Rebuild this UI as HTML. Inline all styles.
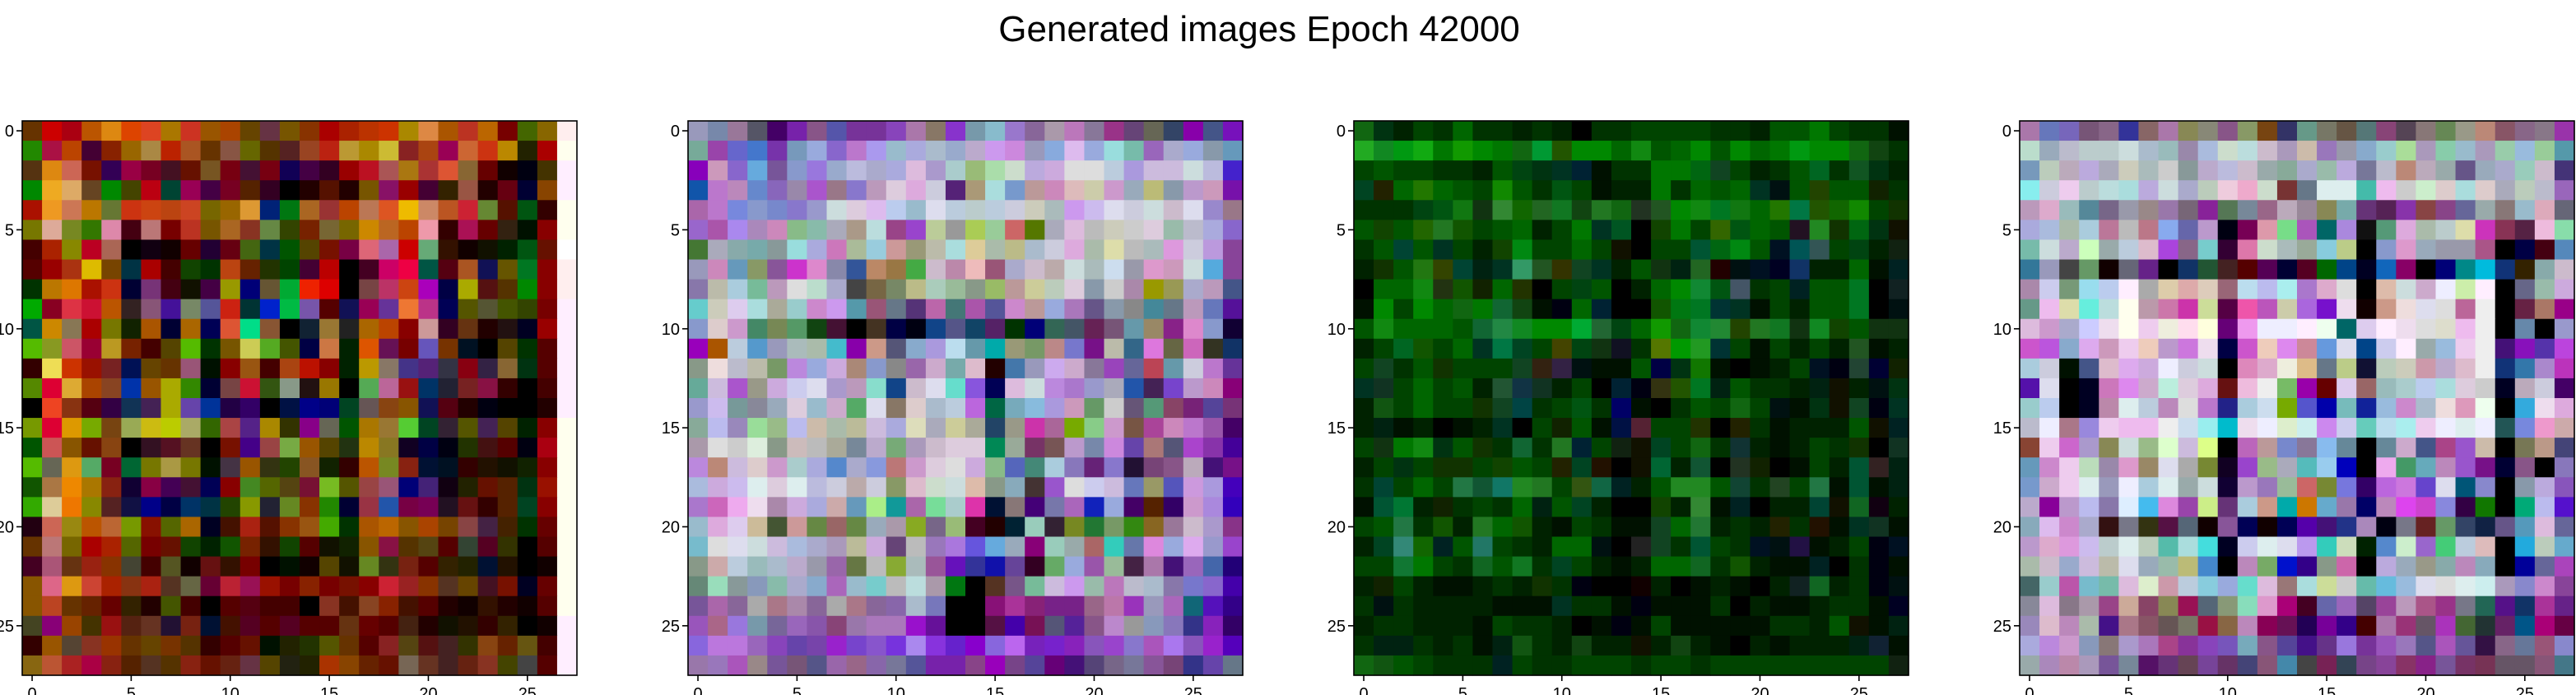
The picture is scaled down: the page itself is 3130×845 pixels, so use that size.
<!DOCTYPE html>
<html><head><meta charset="utf-8">
<style>
html,body{margin:0;padding:0;background:#fff;}
svg{display:block;font-family:"Liberation Sans",sans-serif;}
</style></head>
<body>
<svg id="fig" width="3130" height="845" viewBox="0 0 3130 845" xmlns="http://www.w3.org/2000/svg">
<rect x="0" y="0" width="3130" height="845" fill="#fff"/>
<text x="1530" y="50" font-size="44" text-anchor="middle" fill="#000">Generated images Epoch 42000</text>
</svg>
<script>
const tickValues = [0, 5, 10, 15, 20, 25];
const imageNames = ["image-1", "image-2", "image-3", "image-4"];
const img1 = [
"630 c00 a01 b50 d81 d40 d42 a70 c32 950 a40 640 634 750 830 a00 a20 b30 c30 a80 d84 a50 b32 b60 700 460 860 fee",
"280 a14 b40 403 820 960 a84 b20 a52 630 854 660 530 522 942 b21 b93 a80 cb3 822 a41 905 c63 c31 b80 220 a00 ffe",
"531 d81 c65 710 305 904 702 412 610 752 701 413 701 105 404 302 900 b12 a55 a71 a33 d53 863 600 100 001 430 fef",
"080 ea2 da6 642 080 440 b01 043 905 404 702 520 302 000 200 510 200 750 816 900 403 320 954 200 601 003 840 fef",
"a10 e92 c75 b70 673 c31 c41 b41 c42 760 960 d93 027 071 a62 933 b40 b75 d52 eb0 c86 b52 c23 683 510 051 300 ffe",
"770 da9 782 370 d8a 401 b77 700 b32 750 a62 832 684 340 720 763 760 c80 b62 b40 e9a 300 a15 600 321 010 800 ffe",
"400 a20 880 b02 a65 000 101 100 600 203 601 461 034 050 540 710 704 d67 a6a c00 6a7 310 100 110 020 051 610 fff",
"500 900 a31 db0 740 034 a00 400 140 030 b41 620 230 040 403 b00 000 402 c06 e04 054 501 a52 115 650 072 800 fee",
"030 b70 d70 a10 c31 003 737 401 110 404 990 007 653 0a3 e20 d00 000 744 b36 c41 a0b 004 aa0 511 530 080 800 fee",
"0a0 802 d34 c13 b50 322 857 419 786 559 c21 033 02c 0b4 75a 500 115 905 639 e73 b38 005 550 553 450 340 700 fef",
"054 c80 875 a00 770 120 a50 003 a60 005 d53 0d8 853 000 123 973 222 a60 b40 800 c99 302 631 200 211 002 900 fef",
"5b0 892 c56 903 b92 720 400 540 5b0 030 750 cc5 5a2 450 004 c74 020 d50 615 700 65b 730 012 000 540 030 500 fef",
"300 ed5 c30 910 722 015 640 630 957 010 800 951 400 a41 b10 800 020 b90 876 438 527 334 801 324 863 031 500 fef",
"580 d03 da3 a40 842 03a 950 aa0 380 003 744 c13 351 898 211 970 000 5a5 b69 911 036 223 722 814 300 000 400 fef",
"000 e42 831 501 304 135 425 aa0 64a 039 204 306 000 014 008 007 042 655 841 850 115 501 200 001 000 000 200 fef",
"790 d03 d90 7a0 741 9a5 cb1 bc0 aa6 360 a44 528 a80 330 808 665 050 a70 973 5c3 042 323 550 425 540 020 800 ffe",
"050 c55 850 610 841 000 312 512 632 000 710 408 944 7a4 950 540 231 b80 872 102 004 001 230 411 500 001 a01 ffe",
"5b0 665 d91 5a6 702 063 770 a94 770 010 434 950 331 240 852 120 300 b50 782 821 013 012 300 210 110 120 800 ffe",
"150 a74 e80 a70 821 103 804 405 413 005 800 482 560 541 713 7b2 550 944 957 007 427 101 220 610 520 031 910 ffe",
"3a0 dc9 e70 880 522 114 008 004 036 034 240 890 223 682 830 280 003 934 25a 704 705 212 611 300 520 042 800 ffe",
"201 c65 981 b50 b63 790 810 560 a60 002 410 a21 510 830 951 4a0 030 a50 b60 850 a40 740 844 424 420 030 600 ffe",
"630 b77 760 a00 a20 560 700 610 140 020 150 720 310 140 500 110 120 850 814 530 541 500 343 502 330 000 500 ffe",
"402 a57 631 921 830 443 400 552 100 611 310 700 000 010 100 540 110 682 331 721 500 320 220 013 210 000 100 ffe",
"850 d68 d91 c43 a20 831 a21 532 664 603 b23 915 910 700 820 700 710 800 c23 922 830 532 640 412 710 002 600 ffe",
"850 b42 630 620 600 320 200 450 400 000 500 501 400 400 000 832 410 842 820 410 500 200 100 310 200 100 500 ffe",
"442 807 940 430 911 521 632 213 721 013 410 502 500 502 500 500 631 600 500 421 200 110 210 300 320 000 100 fef",
"300 950 543 832 930 630 640 730 530 300 500 610 010 220 230 550 630 500 822 541 511 422 330 841 620 651 400 fef",
"861 b53 a22 a04 821 520 532 530 821 610 621 634 540 221 220 a30 840 620 610 765 632 422 621 832 440 444 500 fef"
];
const img2 = [
"99b 78a 979 556 406 72a 858 55a 739 739 84b a7a 876 83c 79a 8bc 97c 869 a9a b7b 879 938 647 665 346 80a 458 71b",
"7a9 94a 66c 47c 73a 79b 9ad 86c b7c a9e 9bc aad abc 9ac bac c9e c8d 99b 8ad dbe 9ad 9dd 7ba 96b aac 9ad 89a 69b",
"80b c9b 86c 6ad 759 89c 97d 9ac bbd aac aad dbd a9c acc 9b7 ada cdc bad cad ddd ddd bcd a9d cbd cbd cdd bbd 42c",
"15a b7c b8b 68c 86b 98a a5c 978 87c b9b dcd dad ccd 527 a97 add 79c b99 c8b dbb cca c9c 9ab bb7 89a b9c c9b 71a",
"a6a b7c 78d 89c 78c 87c 99c cdd dcd dbe bce 9bc dde bcd bcc bcd ccd ccb abb c9e cbe dde ccd cdd cbc dde 98c 978",
"96c a5a a8e a8b c8b 8b8 8ba aab a98 bdd 948 94c bc9 999 ac5 9c9 c66 570 aab dbd bbb ccb ccc dcd 9ba bbc aad 86c",
"473 aab 8aa 7aa 899 9dd aad c7b ab9 9cd c99 997 bba add dc9 aba bb8 abc ccd dad aba dda bbb abb d9d ccd b9d 849",
"99b c8b 69b 896 859 c3c d8c 88a 359 b86 974 4a4 cbc b8a ebb 957 aac cbc baa cdd abb cde 99a d9c c9b cdd 5ad 849",
"87a bba acd 7b9 b9b ddd bdc aac 444 764 786 bb8 acb 9b9 898 9b6 b99 cc9 bcb dcd 89a ccc a8a 990 995 aac b9b 458",
"6cc ccb dce add aa9 9cc c8c c9e 59a 957 678 537 b6a 477 a5a 559 c8c b99 9ad a7b 658 89a 888 489 678 b9b 67b 519",
"89c dcc c9c 486 785 596 141 413 000 432 004 001 148 558 146 526 030 007 365 456 625 757 69a 986 828 d8c 89c 103",
"90b a50 bcd 59c 99b abb aba 4bc 80a c98 557 8ac a9d bde 69a 0aa 997 796 b88 77c 718 bba 368 d7d 664 c6b 332 136",
"898 edd bbc bba 796 b8d 9ad cad a87 89c 888 96a cac 7aa dbc 200 47a 99b cae cac 879 94b 669 b45 69a ccd b7c 639",
"6a9 cbd a5c 998 cad cce dde a9c b9b 8dc 148 cbc dde 6dc 85d 005 dbd cdd b8d a7c 99c aab 25a 425 74c b9c c8b 807",
"99c cbe 799 889 9ab dcd 9bc cac 5a6 dde 876 dcc abc bcd b6d 064 7ab 8bd a9d c9b 696 ccc 657 597 846 727 549 737",
"8a9 bbe 98b 9d9 9b8 bbe cba aba bb9 cbd aad ddb aab cc9 aa9 246 998 c3a a69 7a0 8c8 c9c 754 a49 c8b b7c 95a 406",
"a9a ddd ccc ded 898 cbb bbb aa9 789 bac 7a7 a9b cbc dcd dcd 085 9a9 736 755 b9c 78a c8d 64a a77 557 a4c 83a 409",
"b8d b87 cbd dcc c9c acc aad 58c aac 89d b77 c9c dcd ddd cad 8b8 56b 487 acd 87b 627 87c 213 747 858 bab 417 718",
"abd cad cbe dee dcd dee bbd ccd baa ccd 896 dbc cdc cdd dba 898 8ab 433 95c ddd cce cbd 67b 996 55b c9d a9d 40b",
"a7c c6b eae ede a8a cad aad caa 69b ae8 199 a6a 7d9 acc d3a 013 877 407 77a a6b 12b 9ad 406 520 306 c9c a8d 30b",
"9bc dad dce cb9 453 c99 684 966 684 9ab a9a 8a2 768 9b7 402 200 023 9cb 323 782 273 796 381 862 979 cbc a9c 838",
"7bc ddd dde cdd cbd abd aac a9b bb9 cad 647 bbb 97b a7d 65d 6ad 9ab 807 9cb 9aa a66 3cb 67a d8d 9ad dae 99c 94c",
"898 caa bcd 9bb abc bac 99a 96a 674 bbb 8a3 abb 959 61b 339 11a 649 302 6a6 9ad 95a 9b9 424 a7a 417 96b 46a 207",
"687 9db 899 89b 8ba aac 8ac a6b 9bc 7cc bbb bdd a9a 071 000 532 758 7b9 cbd c9e 9ba b7b bbc abc 87a 77c 86c 40a",
"759 a6a 869 aaa a78 a8a 869 aaa a78 869 86a abc 77b 000 000 817 a39 827 728 728 968 b7a 93b 99b a6b 167 51b 308",
"95b a68 97d 79a 769 96b 85a 847 97a a7b a7b 91c 619 000 000 514 40a 715 557 529 858 b8c 999 89b 87b 338 82b 306",
"86d b7d b7d 96b 84b 64a 74a 92c 74c 85c 73d a8e 83d 62c 80c 86d b6e 72b 72c 82b 85b 94c 87c a5b a7e 85b 92c 50b",
"97a 97b a5b 988 759 757 558 96a 968 86a 779 559 72a 72a 848 90b 748 549 607 417 547 768 779 859 747 338 64a 678"
];
const img3 = [
"161 031 020 040 030 060 030 030 020 030 020 000 030 030 040 040 040 040 030 030 020 050 050 070 040 030 030 010",
"2a2 182 091 1a1 070 190 080 070 161 093 250 080 080 060 181 050 060 080 050 080 060 070 091 080 080 161 141 030",
"040 050 040 040 030 030 020 050 041 031 032 023 010 030 030 070 070 061 142 040 020 030 050 062 030 152 031 020",
"042 220 060 270 060 050 040 180 050 030 051 040 010 020 020 070 030 060 050 060 032 011 050 240 050 050 120 030",
"030 030 030 041 051 171 131 383 160 262 172 141 272 161 232 252 080 181 072 171 060 270 074 250 160 180 040 130",
"050 140 050 260 272 150 040 050 060 020 040 070 032 052 000 140 070 040 360 051 060 050 212 282 130 061 031 110",
"030 050 043 050 032 040 020 140 081 040 040 060 040 110 000 040 040 053 061 081 050 012 055 355 040 041 020 121",
"020 130 050 271 340 043 021 032 396 252 330 142 032 020 050 131 021 262 200 011 012 002 136 020 020 060 010 022",
"000 060 060 181 231 150 120 060 230 000 040 041 050 000 020 060 080 183 051 456 030 040 022 050 050 072 000 122",
"010 080 040 080 060 161 070 163 141 010 001 060 023 000 000 150 071 072 033 032 010 040 020 050 050 072 000 011",
"050 181 060 060 060 050 163 284 182 080 080 0a3 263 041 060 190 161 183 283 240 272 172 131 182 140 050 131 131",
"020 040 062 150 040 060 032 074 042 040 440 041 131 112 030 570 090 292 033 040 010 040 020 040 020 252 010 020",
"040 142 030 050 130 040 040 040 142 321 324 011 010 010 050 004 031 170 010 000 010 020 040 012 001 243 003 120",
"032 132 040 060 040 050 020 253 134 132 020 040 000 023 001 331 250 072 021 050 030 030 020 021 110 020 011 031",
"020 151 040 060 040 040 130 142 044 030 040 051 030 006 010 000 030 050 040 161 040 011 010 031 110 142 001 032",
"020 021 010 020 000 010 020 032 000 040 120 050 010 014 523 040 040 230 000 220 030 010 020 020 020 050 110 022",
"040 131 070 181 031 050 130 030 163 030 272 023 040 121 110 042 040 161 030 133 020 010 020 040 030 130 000 132",
"020 040 031 040 130 130 040 140 050 040 220 042 210 000 110 063 020 153 000 232 120 000 010 040 020 053 322 021",
"030 043 040 060 040 274 153 176 282 272 040 351 164 022 020 050 282 282 050 143 030 242 040 274 010 053 010 021",
"010 053 073 020 120 030 040 030 060 021 050 042 020 000 000 140 020 383 010 022 000 020 020 043 110 162 101 020",
"040 050 274 030 150 020 272 060 150 020 010 040 030 010 010 142 060 273 020 030 020 220 030 210 010 032 132 010",
"020 042 387 160 022 050 276 040 030 020 060 060 011 000 222 142 030 053 040 030 012 011 214 010 020 040 001 012",
"040 040 173 070 040 030 162 050 172 030 042 040 020 010 020 060 060 162 030 150 020 010 010 022 000 030 001 010",
"020 120 040 020 010 010 020 030 020 130 030 001 000 000 100 020 000 010 020 010 000 020 122 162 020 030 001 011",
"030 011 030 020 020 020 020 010 010 010 032 030 030 010 001 010 010 010 030 000 020 010 010 020 030 030 010 002",
"020 030 030 020 020 020 010 040 030 030 020 000 010 001 010 040 010 010 010 010 010 030 030 020 050 110 010 021",
"030 021 021 030 020 030 010 021 151 030 020 141 020 020 110 020 141 020 010 000 020 010 020 020 020 021 123 010",
"161 151 050 040 030 030 030 022 040 030 030 040 040 040 030 040 040 030 040 040 040 040 040 040 040 040 040 121"
];
const img4 = [
"a7a 67b 76b 757 868 339 866 a7a 885 887 858 896 741 336 698 776 654 577 847 545 877 685 998 b87 856 868 878 93a",
"bdc 9ab bbc bcc bcc cdd abc 9bb 98a abd cdc bdd cbc a9b cba 97b 99a 8ac 9cc ad9 a9b 8ca 9bc a9b 9ca 9bd 9c9 59a",
"79b bcb bab bad aab ccb abb ccc 899 bac bbd cbc 9aa 8a9 aac 9ba bad 779 bbc b87 bab 9aa 658 9ab aac 9cb cbc 437",
"8ee ccd ece bcc bdd add bad cdd aac bcb ecd eac cdc 733 678 dee dee 4ba ebe ccc cec dcc add dcc aab bcb bbc 96b",
"b9b dac 9bb 589 768 99a 988 97a 767 829 575 789 968 bab 989 885 7aa 637 525 83a 844 848 669 9aa 877 9bc dab 667",
"aad abd aba acd b79 bbb b78 8ae 66a b9c 001 705 d9a 7d8 a5b 066 a8d 111 597 dad aba bcc dda c3b 835 524 ebd 8da",
"7ba cdd bac cfb 9aa bcd dbc a4d 868 7cc 303 d7a cdc abb 9a9 8cd bc8 000 89c d9c 9ab 99a 99a a58 000 004 401 58b",
"379 99b 444 696 100 667 628 000 136 253 422 500 505 003 502 060 048 002 16b 806 000 007 088 0bd 137 320 8aa cbc",
"a8a cce 797 9de bce fef aaa dca daa dcb 967 bde bbe aee a7c dac ddd 000 dba cdd cac eef cea fef 000 668 9ba cad",
"698 ebe dda 6ed bdd ffe b9a c7a c3a cd9 504 e5a b5b cca a6d 71c ede 100 c98 edd dde ddd b69 eee 000 624 a76 908",
"dbd c9c aac ccf ede ffe ece eed fde ffd 607 e9e eef eef fef efe 066 dce fef ede ddd ddc ebe eee 000 68a 000 99c",
"c5c b5d 8ac dae c9b ece ecb b9c c7d ede 004 c5c ecb d8e c89 69d dde 048 cce fef 9aa 9bd ece eee 417 81b 53a b4d",
"acd ccd 010 458 dbc dae cad eef ccd cdd 000 d8b dac eed db8 678 bc8 113 bcb ccb c9a bac dbc eee 137 37a a8c b3b",
"51a dde 000 002 c7b d8e cac bed dcd dad 611 ebd eee 7b6 90a 600 dce 966 9bb acc bce add dcd ccc 002 bab ccd 406",
"9cc bce 000 002 b8a dee bcd b8b ddd b7c 228 acd cde 7a0 55c 00a 7bb 129 9bd c8c abc edd d9b efe 000 3ad ede dad",
"bbc eef a78 98d ece ebe ebe eee cde 9ee 0bc ede eef dec cee c8e cce 6cb bde aee ece eef dee eef 255 78d e9c caa",
"843 ece c6c a9c 885 cdd 9b8 dfc cbd df8 000 b6b b99 78c 879 8be 689 000 689 cac 458 a48 95c cba 000 775 b98 447",
"69b c8c ece bdb 98a d9c 986 dde aaa 783 102 94c 9b8 aab 5bb 9ce 00b 000 eae 496 6ab b8b 95c 718 003 858 000 87b",
"79c cac ece dee 99b eef acd dee 9aa cdd 103 b9c 97b 9b9 c66 783 77d 306 b6d c7d 64c dde 057 88c 000 89a bad 85b",
"bac 809 b9c bbe 87a def 4be d8d 94a ce8 637 acd c98 0aa c70 6ac 97a 006 b8b d4e c4c 88d 304 170 000 0a7 bbe 51c",
"8ab dbe c8c aac 311 778 331 514 567 100 859 005 100 005 50a 417 238 a8b 001 778 622 696 346 124 658 59b dbd 669",
"b9c dac d9d cbe bcc dee bcb 5ba add 4dd 002 cce dee dde b9e 3cb cdb 020 58c cec 96c 4c7 bcd dbb 000 2ad bcb 6ac",
"aba cbc 9ac cbd bba dde 9ab 9ba bb7 48c 000 b8b 7a6 01c 308 898 c6a 000 bad 9ab 998 8aa b8b 8ab 000 009 669 a4b",
"466 9cc b5a 7bc 7ba dbd dec c9a bcd 8cd 9ad 6dc dbd 977 add cd9 ccc 6ba 6bd 9bd dde ddd dee cee a9b 88c c8c 849",
"889 dbd 878 a9a 948 ca9 846 885 915 567 897 8db d9c a07 402 66a 96b 546 949 b9b a58 938 778 265 518 136 a39 628",
"98b dbc b8b aba 418 a78 856 655 776 914 864 b8b 805 615 205 709 308 400 a7a 937 656 a3b 463 233 626 058 a07 604",
"aad b8d c9c 89b 877 a9c a7b a48 839 84b 75b 7ab 858 549 418 638 97d 739 95b 97b 558 a5b 659 314 868 679 957 88c",
"9aa a8b b8a a9b 759 789 516 637 645 749 636 447 857 48a 444 725 345 748 849 836 828 759 736 735 656 656 857 478"
];
const images = [img1, img2, img3, img4];

const NS = "http://www.w3.org/2000/svg";
const svg = document.getElementById("fig");
const N = 28, AX_SIZE = 674, AX_TOP = 147, AX_LEFT0 = 27, AX_STEP = 809;
const cell = AX_SIZE / N;

function mk(tag, attrs) {
  const e = document.createElementNS(NS, tag);
  for (const k in attrs) e.setAttribute(k, attrs[k]);
  return e;
}

images.forEach((rows, idx) => {
  const x0 = AX_LEFT0 + idx * AX_STEP;
  const xScale = v => x0 + (v + 0.5) * cell;
  const yScale = v => AX_TOP + (v + 0.5) * cell;
  const g = mk("g", {});
  
  
  svg.appendChild(g);
  rows.forEach((row, r) => {
    const vals = row.trim().split(/\s+/);
    for (let c = 0; c < N; c++) {
      const code = vals[Math.min(c, vals.length - 1)];
      const rc = mk("rect", {x: (xScale(c) - cell / 2).toFixed(2), y: (yScale(r) - cell / 2).toFixed(2),
        width: (cell + 0.6).toFixed(2), height: (cell + 0.6).toFixed(2), fill: "#" + code});
      
      
      g.appendChild(rc);
    }
  });
  const frame = mk("rect", {x: x0, y: AX_TOP, width: AX_SIZE, height: AX_SIZE, fill: "none", stroke: "#000", "stroke-width": 1.6});
  
  
  svg.appendChild(frame);
  tickValues.forEach(t => {
    const tx = xScale(t), ty = yScale(t);
    const xt = mk("line", {x1: tx, y1: AX_TOP + AX_SIZE, x2: tx, y2: AX_TOP + AX_SIZE + 7, stroke: "#000", "stroke-width": 1.6});
    
    
    svg.appendChild(xt);
    const xl = mk("text", {x: tx, y: AX_TOP + AX_SIZE + 29, "font-size": 20, "text-anchor": "middle", fill: "#000"});
    xl.textContent = String(t);
    
    
    svg.appendChild(xl);
    const yt = mk("line", {x1: x0 - 7, y1: ty, x2: x0, y2: ty, stroke: "#000", "stroke-width": 1.6});
    
    
    svg.appendChild(yt);
    const yl = mk("text", {x: x0 - 10, y: ty + 7, "font-size": 20, "text-anchor": "end", fill: "#000"});
    yl.textContent = String(t);
    
    
    svg.appendChild(yl);
  });
});
</script>
</body></html>
